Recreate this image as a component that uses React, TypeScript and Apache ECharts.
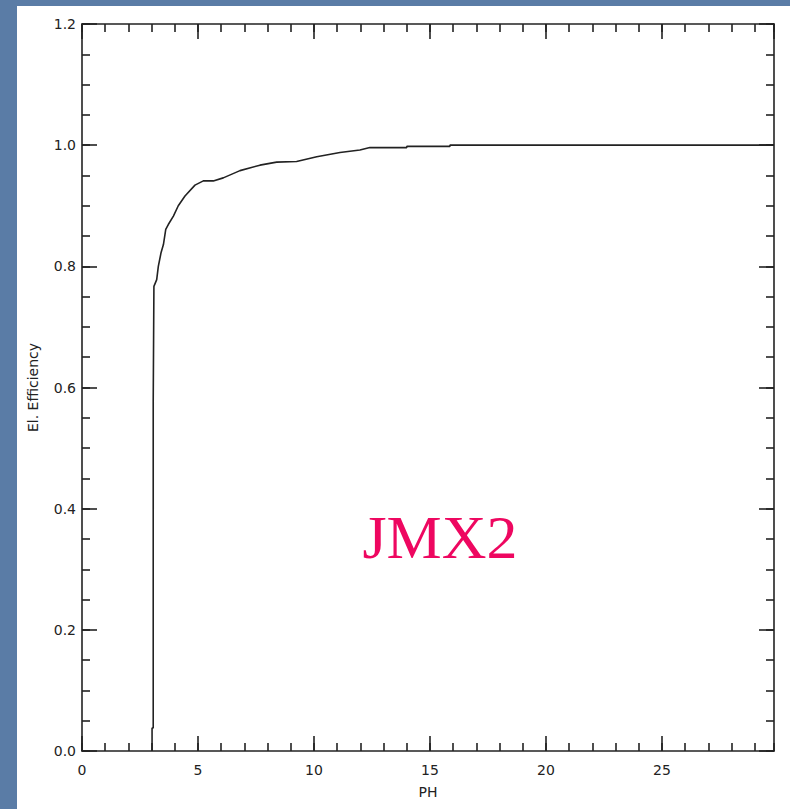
import React, { useEffect, useRef } from "react";
import * as echarts from "echarts";

const phValues = [3.02, 3.02, 3.07, 3.07, 3.1, 3.1, 3.22, 3.29, 3.41, 3.51, 3.61, 3.72, 3.94, 4.15, 4.44, 4.87, 5.23, 5.66, 6.09, 6.81, 7.67, 8.39, 9.25, 10.12, 11.12, 11.98, 12.41, 14.0, 14.0, 15.86, 15.86, 29.83];
const effValues = [0.0, 0.038, 0.038, 0.577, 0.577, 0.767, 0.778, 0.8, 0.823, 0.836, 0.861, 0.869, 0.883, 0.9, 0.916, 0.934, 0.941, 0.941, 0.946, 0.958, 0.967, 0.972, 0.973, 0.981, 0.988, 0.992, 0.996, 0.996, 0.998, 0.998, 1.0, 1.0];
const xMin = 0;
const xMax = 29.83;
const yMin = 0;
const yMax = 1.2;
const xTitle = "PH";
const yTitle = "El. Efficiency";
const annotation = "JMX2";

export default function App() {
  const ref = useRef<HTMLDivElement>(null);
  useEffect(() => {
    if (!ref.current) return;
    const chart = echarts.init(ref.current, null, { renderer: "svg" });
    const ink = "#222";
    const font = "'DejaVu Sans', 'Liberation Sans', Arial, sans-serif";
    const lineStyle = { color: ink, width: 1.6 };
    const mkX = (pos: string, interval: number, len: number, labels: boolean, line: boolean, extra: any = {}) => ({
      type: "value",
      position: pos,
      min: xMin,
      max: xMax,
      interval,
      axisLine: { show: line, onZero: false, lineStyle },
      axisTick: { show: true, inside: true, length: len, lineStyle },
      axisLabel: labels
        ? { show: true, color: ink, fontSize: 14, fontFamily: font, margin: 12, showMaxLabel: false }
        : { show: false },
      splitLine: { show: false },
      ...extra,
    });
    const mkY = (pos: string, interval: number, len: number, labels: boolean, line: boolean, extra: any = {}) => ({
      type: "value",
      position: pos,
      min: yMin,
      max: yMax,
      interval,
      axisLine: { show: line, onZero: false, lineStyle },
      axisTick: { show: true, inside: true, length: len, lineStyle },
      axisLabel: labels
        ? { show: true, color: ink, fontSize: 14, fontFamily: font, margin: 6, formatter: (v: number) => v.toFixed(1) }
        : { show: false },
      splitLine: { show: false },
      ...extra,
    });
    chart.setOption({
      animation: false,
      backgroundColor: "#5a7ca6",
      grid: { left: 82, top: 24, right: 16, bottom: 58, containLabel: false },
      graphic: [
        { type: "rect", left: 17, top: 6, z: -10, shape: { width: 773, height: 803 }, style: { fill: "#ffffff" } },
        {
          type: "text",
          x: 440,
          y: 537,
          z: 10,
          style: {
            text: annotation,
            fill: "#ee0760",
            font: "62px 'Liberation Serif', 'Times New Roman', serif",
            align: "center",
            verticalAlign: "middle",
          },
        },
      ],
      xAxis: [
        mkX("bottom", 5, 15, true, true, {
          name: xTitle,
          nameLocation: "middle",
          nameGap: 34,
          nameTextStyle: { color: ink, fontSize: 14, fontFamily: font },
        }),
        mkX("bottom", 1, 8, false, false),
        mkX("top", 5, 15, false, true),
        mkX("top", 1, 8, false, false),
      ],
      yAxis: [
        mkY("left", 0.2, 15, true, true, {
          name: yTitle,
          nameLocation: "middle",
          nameGap: 42,
          nameRotate: 90,
          nameTextStyle: { color: ink, fontSize: 14, fontFamily: font },
        }),
        mkY("left", 0.05, 8, false, false),
        mkY("right", 0.2, 15, false, true),
        mkY("right", 0.05, 8, false, false),
      ],
      series: [
        {
          type: "line",
          xAxisIndex: 0,
          yAxisIndex: 0,
          data: phValues.map((x, i) => [x, effValues[i]]),
          showSymbol: false,
          symbol: "none",
          lineStyle: { color: ink, width: 1.6 },
        },
      ],
    });
    return () => chart.dispose();
  }, []);
  return (
    <div
      ref={ref}
      style={{ position: "fixed", left: 0, top: 0, width: 790, height: 809 }}
    />
  );
}
